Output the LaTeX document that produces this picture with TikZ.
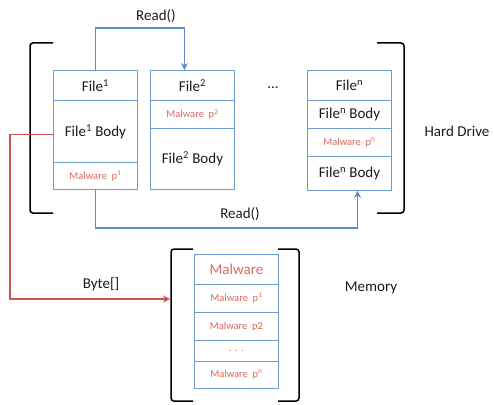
\documentclass[tikz,border=0pt]{standalone}
\usepackage{fontspec}
\setmainfont{Carlito}
\usetikzlibrary{arrows.meta}
\definecolor{boxblue}{RGB}{110,155,210}
\definecolor{connblue}{RGB}{90,140,200}
\definecolor{connred}{RGB}{200,85,80}
\definecolor{malred}{RGB}{215,105,95}
\tikzset{
  cell/.style={draw=boxblue, line width=0.9pt, minimum width=84pt, inner sep=0pt, anchor=north west, font=\fontsize{15}{18}\selectfont, text=black!90},
  malcell/.style={cell, font=\fontsize{10.5}{12}\selectfont, text=malred},
  conn/.style={draw=connblue, line width=1.8pt, -{Stealth[length=7pt,width=7pt]}},
  redconn/.style={draw=connred, line width=1.6pt, -{Stealth[length=7pt,width=7pt]}},
  brack/.style={draw=black, line width=1.5pt, rounded corners=3pt},
  lbl/.style={font=\fontsize{15}{18}\selectfont, text=black!90, inner sep=0pt}
}
\begin{document}
\begin{tikzpicture}[x=1pt,y=-1pt]
\useasboundingbox (0,0) rectangle (494,404);
% File 1
\node[cell, minimum height=30pt] (f1h) at (53,70) {File\textsuperscript{1}};
\node[cell, minimum height=62pt] (f1b) at (53,100) {File\textsuperscript{1} Body};
\node[malcell, minimum height=27pt] (f1m) at (53,162) {Malware\ \ p\textsuperscript{1}};
% File 2
\node[cell, minimum height=30pt] (f2h) at (150,70) {File\textsuperscript{2}};
\node[malcell, minimum height=28pt] (f2m) at (150,100) {Malware\ \ p\textsuperscript{2}};
\node[cell, minimum height=61pt] (f2b) at (150,128) {File\textsuperscript{2} Body};
% File n
\node[cell, minimum height=30pt] (fnh) at (307,70) {File\textsuperscript{n}};
\node[cell, minimum height=28pt] (fnb) at (307,100) {File\textsuperscript{n} Body};
\node[malcell, minimum height=28pt] (fnm) at (307,128) {Malware\ \ p\textsuperscript{n}};
\node[cell, minimum height=34pt] (fnb2) at (307,156) {File\textsuperscript{n} Body};
\node[lbl] (dots) at (273,88) {...};
% Memory
\node[cell, minimum height=30pt, text=malred] (mh) at (194,254) {Malware};
\node[malcell, minimum height=28pt] (m1) at (194,284) {Malware\ \ p\textsuperscript{1}};
\node[malcell, minimum height=28pt] (m2) at (194,312) {Malware\ \ p2};
\node[malcell, minimum height=21pt] (m3) at (194,340) {.\,\,.\,\,.};
\node[malcell, minimum height=27pt] (mn) at (194,361) {Malware\ \ p\textsuperscript{n}};
% brackets
\draw[brack] (53,43) -- (30,43) -- (30,213) -- (53,213);
\draw[brack] (377,43) -- (404,43) -- (404,213) -- (377,213);
\draw[brack] (193,249) -- (171,249) -- (171,401) -- (193,401);
\draw[brack] (278,249) -- (299,249) -- (299,401) -- (278,401);
% labels
\node[lbl] (hd) at (457,131) {Hard Drive};
\node[lbl] (mem) at (371,288) {Memory};
\node[lbl] (r1) at (156,16) {Read()};
\node[lbl] (r2) at (240,214) {Read()};
\node[lbl] (by) at (101,284) {Byte[]};
% connectors
\coordinate (mleft) at (170,299);
\draw[conn] (f1h.north) -- ++(0,-42) -| ([xshift=-8pt]f2h.north);
\draw[conn] (f1m.south) -- ++(0,38) -| ([xshift=8pt]fnb2.south);
\draw[redconn] ([yshift=-3pt]f1b.west) -- ++(-43,0) |- (mleft);
\end{tikzpicture}
\end{document}
